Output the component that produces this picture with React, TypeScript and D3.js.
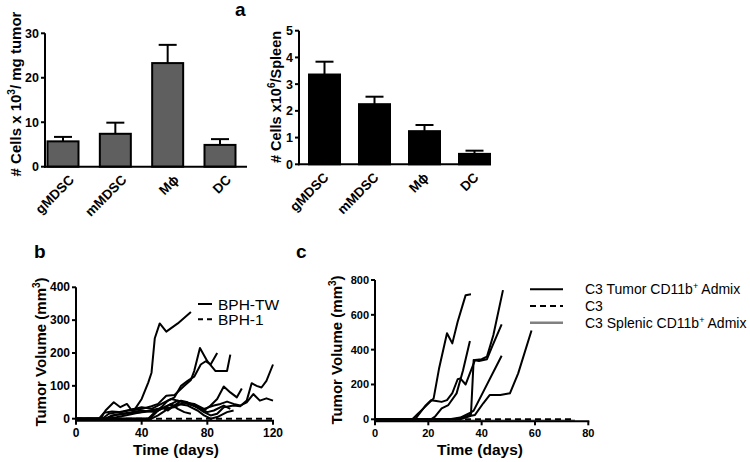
import React from 'react';
import * as d3 from 'd3';

const FONT = "Arial, 'Liberation Sans', sans-serif";

// Panel a
const categories = ['gMDSC', 'mMDSC', 'M\u03d5', 'DC'];
const tumorMeans = [5.7, 7.4, 23.3, 4.9];
const tumorSem = [1.0, 2.5, 4.1, 1.3];
const spleenMeans = [3.36, 2.25, 1.24, 0.39];
const spleenSem = [0.48, 0.28, 0.23, 0.12];
const tumorTicks = [0, 10, 20, 30];
const spleenTicks = [0, 1, 2, 3, 4, 5];

// Panel b (day, volume)
const bphTW: [number, number][][] = [
  [[0, 0], [14, 0], [17, 18], [22, 22], [28, 20], [32, 25], [36, 30], [40, 60], [44, 110], [46, 140], [48, 245], [51, 290], [55, 265], [62, 290], [70, 325]],
  [[0, 0], [15, 0], [18, 25], [23, 50], [27, 35], [31, 45], [34, 25], [40, 30], [46, 38], [50, 45], [55, 70], [60, 72], [66, 100], [70, 118], [72, 145], [75.5, 215], [80, 175], [85, 145], [92, 145], [94, 195]],
  [[0, 0], [45, 0], [48, 15], [52, 35], [56, 55], [60, 65], [64, 100], [68, 115], [72, 128], [76, 165], [79, 175], [82, 165], [86, 200]],
  [[0, 0], [18, 0], [22, 10], [30, 15], [40, 20], [50, 25], [56, 40], [62, 55], [68, 45], [74, 35], [78, 25], [82, 40], [86, 60], [90, 98], [94, 80], [98, 65], [101, 92]],
  [[0, 0], [20, 0], [30, 10], [40, 20], [50, 30], [60, 35], [66, 50], [72, 40], [78, 20], [82, 10], [86, 15], [90, 35], [96, 40], [100, 38], [104, 55], [107, 108], [110, 100], [113, 95], [116, 115], [120, 165]],
  [[0, 0], [16, 0], [20, 15], [26, 20], [34, 28], [40, 35], [46, 30], [52, 45], [58, 60], [62, 55], [66, 50], [72, 45], [78, 30], [84, 40], [88, 45], [92, 52], [96, 45], [100, 40], [104, 50], [108, 75], [112, 55], [116, 62], [120, 55]],
  [[0, 0], [18, 0], [24, 12], [32, 18], [40, 25], [48, 20], [54, 35], [58, 45], [62, 30], [66, 20], [70, 15]],
  [[0, 0], [44, 0], [48, 20], [52, 35], [56, 25], [60, 40], [64, 55], [68, 50], [72, 40], [76, 30], [80, 20], [84, 25], [90, 40], [94, 30]],
  [[0, 0], [46, 0], [50, 10], [56, 30], [62, 45], [68, 40], [74, 25], [78, 10], [82, 0], [86, 5], [92, 20], [96, 25]],
];
const bph1: [number, number][] = [[0, 0], [120, 0]];
const bTicksX = [0, 40, 80, 120];
const bTicksY = [0, 100, 200, 300, 400];

// Panel c
const c3Tumor: [number, number][][] = [
  [[0, 0], [14, 0], [16, 30], [18, 60], [20, 90], [22, 120], [24, 290], [27, 494], [29, 436], [31, 560], [34, 713], [36, 718]],
  [[0, 0], [15, 0], [17, 40], [19, 80], [21, 110], [23, 105], [25, 100], [27, 110], [29, 150], [31, 230], [32, 235], [34, 200], [37.5, 340], [40, 345], [42, 360], [44.4, 484], [48, 742]],
  [[0, 0], [21, 0], [22.5, 15], [25, 63], [27.5, 82], [30.6, 149], [33, 280], [35.6, 450]],
  [[0, 0], [30, 0], [34, 15], [36, 30], [37, 340], [39, 335], [42, 345], [44, 420], [47.5, 545]],
  [[0, 0], [28, 0], [32, 10], [36, 40], [37, 50], [47.5, 365]],
  [[0, 0], [32, 0], [36, 20], [37.5, 25], [40.6, 92], [43, 139], [47, 139], [50.6, 149], [53.7, 264], [58.7, 510]],
];
const c3: [number, number][] = [[0, 0], [75, 0]];
const c3Splenic: [number, number][] = [[0, 0], [75, 0]];
const cTicksX = [0, 20, 40, 60, 80];
const cTicksY = [0, 200, 400, 600, 800];

const AX = { stroke: '#000', strokeWidth: 2 };

function BarPanel({ means, sem, ticks, xRange, yRange, axisX, axisEnd, fill, labelOffset }: any) {
  const x = d3.scalePoint<string>().domain(categories).range(xRange);
  const y = d3.scaleLinear().domain([0, ticks[ticks.length - 1]]).range(yRange);
  const bw = 31;
  const y0 = y(0);
  return (
    <g>
      {categories.map((c, i) => {
        const cx = x(c)!;
        const top = y(means[i]);
        const et = y(means[i] + sem[i]);
        return (
          <g key={c}>
            <line x1={cx} x2={cx} y1={top} y2={et} stroke="#000" strokeWidth={2} />
            <line x1={cx - 9} x2={cx + 9} y1={et} y2={et} stroke="#000" strokeWidth={2} />
            <rect x={cx - bw / 2} y={top} width={bw} height={y0 - top} fill={fill} stroke="#000" strokeWidth={2} />
            <text
              transform={`translate(${cx + labelOffset},${y0 + 14}) rotate(-45)`}
              textAnchor="end"
              fontFamily={FONT}
              fontWeight="bold"
              fontSize={13.5}
            >
              {c}
            </text>
          </g>
        );
      })}
      <line x1={axisX} x2={axisX} y1={y0 + 1} y2={y(ticks[ticks.length - 1])} {...AX} />
      <line x1={axisX - 1} x2={axisEnd} y1={y0} y2={y0} {...AX} />
      {ticks.map((t: number) => (
        <g key={t}>
          <line x1={axisX - 4} x2={axisX} y1={y(t)} y2={y(t)} {...AX} />
          <text x={axisX - 6} y={y(t) + 4.5} textAnchor="end" fontFamily={FONT} fontWeight="bold" fontSize={12.5}>
            {t}
          </text>
        </g>
      ))}
    </g>
  );
}

function LinePanel({ x, y, xTicks, yTicks, fsTick, children }: any) {
  const y0 = y(0) + 2;
  const xr = x.range();
  return (
    <g>
      {children}
      <line x1={xr[0]} x2={xr[0]} y1={y0 + 1} y2={y(yTicks[yTicks.length - 1])} {...AX} />
      <line x1={xr[0] - 1} x2={xr[1] + 1} y1={y0} y2={y0} {...AX} />
      {yTicks.map((t: number) => (
        <g key={'y' + t}>
          <line x1={xr[0] - 4} x2={xr[0]} y1={y(t)} y2={y(t)} {...AX} />
          <text x={xr[0] - 6} y={y(t) + 4} textAnchor="end" fontFamily={FONT} fontWeight="bold" fontSize={fsTick}>
            {t}
          </text>
        </g>
      ))}
      {xTicks.map((t: number) => (
        <g key={'x' + t}>
          <line x1={x(t)} x2={x(t)} y1={y0} y2={y0 + 4} {...AX} />
          <text x={x(t)} y={y0 + 16} textAnchor="middle" fontFamily={FONT} fontWeight="bold" fontSize={fsTick}>
            {t}
          </text>
        </g>
      ))}
    </g>
  );
}

export default function App() {
  const xB = d3.scaleLinear().domain([0, 120]).range([76, 273]);
  const yB = d3.scaleLinear().domain([0, 400]).range([418.7, 287.3]);
  const xC = d3.scaleLinear().domain([0, 80]).range([375, 588.3]);
  const yC = d3.scaleLinear().domain([0, 800]).range([419.3, 280]);
  const lineB = d3.line<[number, number]>().x((d) => xB(d[0])).y((d) => yB(d[1]));
  const lineC = d3.line<[number, number]>().x((d) => xC(d[0])).y((d) => yC(d[1]));

  return (
    <svg width={750} height={462} style={{ position: 'absolute', left: 0, top: 0, background: '#fff' }}>
      <rect width={750} height={462} fill="#fff" />
      {/* panel labels */}
      <text x={235} y={16} fontFamily={FONT} fontWeight="bold" fontSize={19}>a</text>
      <text x={34} y={258} fontFamily={FONT} fontWeight="bold" fontSize={19}>b</text>
      <text x={296} y={258} fontFamily={FONT} fontWeight="bold" fontSize={19}>c</text>

      {/* panel a left */}
      <BarPanel
        means={tumorMeans}
        sem={tumorSem}
        ticks={tumorTicks}
        xRange={[63, 220]}
        yRange={[166.7, 33.3]}
        axisX={45}
        axisEnd={247}
        fill="#5f5f5f"
        labelOffset={12}
      />
      <text transform="translate(21,94) rotate(-90)" textAnchor="middle" fontFamily={FONT} fontWeight="bold" fontSize={15}>
        # Cells x 10<tspan dy={-6} fontSize={10}>3</tspan><tspan dy={6}>/ mg tumor</tspan>
      </text>

      {/* panel a right */}
      <BarPanel
        means={spleenMeans}
        sem={spleenSem}
        ticks={spleenTicks}
        xRange={[324.5, 474.5]}
        yRange={[164.3, 30.7]}
        axisX={299}
        axisEnd={491}
        fill="#000"
        labelOffset={5}
      />
      <text transform="translate(281,97) rotate(-90)" textAnchor="middle" fontFamily={FONT} fontWeight="bold" fontSize={14.5}>
        # Cells x10<tspan dy={-6} fontSize={10}>6</tspan><tspan dy={6}>/Spleen</tspan>
      </text>

      {/* panel b */}
      <LinePanel x={xB} y={yB} xTicks={bTicksX} yTicks={bTicksY} fsTick={12}>
        <path d={lineB(bph1)!} fill="none" stroke="#000" strokeWidth={2} strokeDasharray="6,4" />
        {bphTW.map((s, i) => (
          <path key={i} d={lineB(s)!} fill="none" stroke="#000" strokeWidth={2} strokeLinejoin="round" />
        ))}
      </LinePanel>
      <text transform="translate(46,352) rotate(-90)" textAnchor="middle" fontFamily={FONT} fontWeight="bold" fontSize={15}>
        Tumor Volume (mm<tspan dy={-6} fontSize={10}>3</tspan><tspan dy={6}>)</tspan>
      </text>
      <text x={176} y={455} textAnchor="middle" fontFamily={FONT} fontWeight="bold" fontSize={15.5}>Time (days)</text>
      <line x1={198} x2={212} y1={304} y2={304} stroke="#000" strokeWidth={2} />
      <text x={218} y={309.5} fontFamily={FONT} fontSize={15.5}>BPH-TW</text>
      <line x1={198} x2={212} y1={319.3} y2={319.3} stroke="#000" strokeWidth={2} strokeDasharray="5,4" />
      <text x={218} y={324.8} fontFamily={FONT} fontSize={15.5}>BPH-1</text>

      {/* panel c */}
      <LinePanel x={xC} y={yC} xTicks={cTicksX} yTicks={cTicksY} fsTick={11}>
        <path d={lineC(c3Splenic)!} transform="translate(0,1.5)" fill="none" stroke="#808080" strokeWidth={2.5} />
        <path d={lineC(c3)!} fill="none" stroke="#000" strokeWidth={2} strokeDasharray="6,4" />
        {c3Tumor.map((s, i) => (
          <path key={i} d={lineC(s)!} fill="none" stroke="#000" strokeWidth={2} strokeLinejoin="round" />
        ))}
      </LinePanel>
      <text transform="translate(342,350) rotate(-90)" textAnchor="middle" fontFamily={FONT} fontWeight="bold" fontSize={15}>
        Tumor Volume (mm<tspan dy={-6} fontSize={10}>3</tspan><tspan dy={6}>)</tspan>
      </text>
      <text x={480} y={455} textAnchor="middle" fontFamily={FONT} fontWeight="bold" fontSize={15.5}>Time (days)</text>
      <line x1={530} x2={563} y1={289.3} y2={289.3} stroke="#000" strokeWidth={2} />
      <text x={585} y={294.3} fontFamily={FONT} fontSize={14}>
        C3 Tumor CD11b<tspan dy={-5} fontSize={9}>+</tspan><tspan dy={5}> Admix</tspan>
      </text>
      <line x1={530} x2={563} y1={306} y2={306} stroke="#000" strokeWidth={2} strokeDasharray="6,4" />
      <text x={585} y={311} fontFamily={FONT} fontSize={14}>C3</text>
      <line x1={530} x2={563} y1={322.7} y2={322.7} stroke="#808080" strokeWidth={2.5} />
      <text x={585} y={327.7} fontFamily={FONT} fontSize={14}>
        C3 Splenic CD11b<tspan dy={-5} fontSize={9}>+</tspan><tspan dy={5}> Admix</tspan>
      </text>
    </svg>
  );
}
